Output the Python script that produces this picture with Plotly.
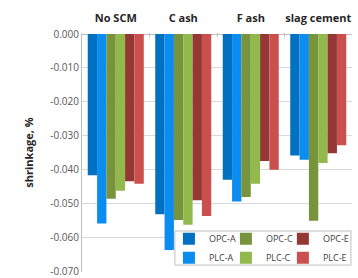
import plotly.graph_objects as go

categories = ["No SCM", "C ash", "F ash", "slag cement"]
series_names = ["OPC-A", "PLC-A", "OPC-C", "PLC-C", "OPC-E", "PLC-E"]
opc_a = [-0.0416, -0.0531, -0.0429, -0.0358]
plc_a = [-0.0558, -0.0636, -0.0493, -0.0370]
opc_c = [-0.0485, -0.0548, -0.0480, -0.0550]
plc_c = [-0.0462, -0.0562, -0.0441, -0.0380]
opc_e = [-0.0434, -0.0490, -0.0374, -0.0351]
plc_e = [-0.0441, -0.0536, -0.0400, -0.0328]
y_ticks = [0, -0.01, -0.02, -0.03, -0.04, -0.05, -0.06, -0.07]
y_tick_labels = ["0.000", "-0.010", "-0.020", "-0.030", "-0.040", "-0.050", "-0.060", "-0.070"]

values = [opc_a, plc_a, opc_c, plc_c, opc_e, plc_e]
colors = ["#0070C0", "#0A8CF0", "#77933C", "#92B94C", "#953735", "#C9504D"]
legend_ids = ["legend", "legend", "legend2", "legend2", "legend3", "legend3"]

fig = go.Figure()
for name, vals, col, lg in zip(series_names, values, colors, legend_ids):
    fig.add_trace(go.Bar(x=categories, y=vals, name=name, marker_color=col,
                         marker_line_width=0, legend=lg))

font_family = "Open Sans, Liberation Sans, sans-serif"
leg_common = dict(orientation="v", y=0.2, xanchor="left", yanchor="top",
                  bgcolor="rgba(0,0,0,0)", borderwidth=0, itemwidth=30,
                  font=dict(size=9, color="#404040"), tracegroupgap=0,
                  traceorder="normal")
fig.update_layout(
    width=358, height=278,
    margin=dict(l=82, r=6, t=33, b=6, autoexpand=False),
    paper_bgcolor="white", plot_bgcolor="white",
    barmode="group", bargap=0.17, bargroupgap=0,
    font=dict(family=font_family, size=10, color="#595959"),
    showlegend=True,
    legend=dict(x=0.322, **leg_common),
    legend2=dict(x=0.533, **leg_common),
    legend3=dict(x=0.744, **leg_common),
    shapes=[dict(type="rect", xref="paper", yref="paper", x0=0.344, x1=0.996,
                 y0=0.029, y1=0.1715, fillcolor="white",
                 line=dict(color="#BFBFBF", width=1), layer="above")],
    xaxis=dict(side="top", showline=False, ticks="inside", ticklen=4,
               tickcolor="#BFBFBF", tickson="boundaries", tickangle=0,
               automargin=False,
               tickfont=dict(size=11, color="#262626", family=font_family),
               ticklabelstandoff=8),
    yaxis=dict(range=[-0.0701, 0.0003], tickvals=y_ticks, ticktext=y_tick_labels,
               showgrid=True, gridcolor="#D9D9D9", gridwidth=1,
               showline=True, linecolor="#BFBFBF", linewidth=1,
               zeroline=True, zerolinecolor="#BFBFBF", zerolinewidth=1,
               tickfont=dict(size=10, color="#595959"), automargin=False,
               ticklabeloverflow="allow",
               title=dict(text="<b>shrinkage, %</b>", standoff=14,
                          font=dict(size=11, color="#262626"))),
)
fig.for_each_xaxis(lambda a: a.update(tickvals=categories,
                                      ticktext=["<b>" + c + "</b>" for c in categories]))
fig.write_html("out.html", config={"displayModeBar": False},
               post_script="document.body.style.margin='0';document.body.style.overflow='hidden';")
